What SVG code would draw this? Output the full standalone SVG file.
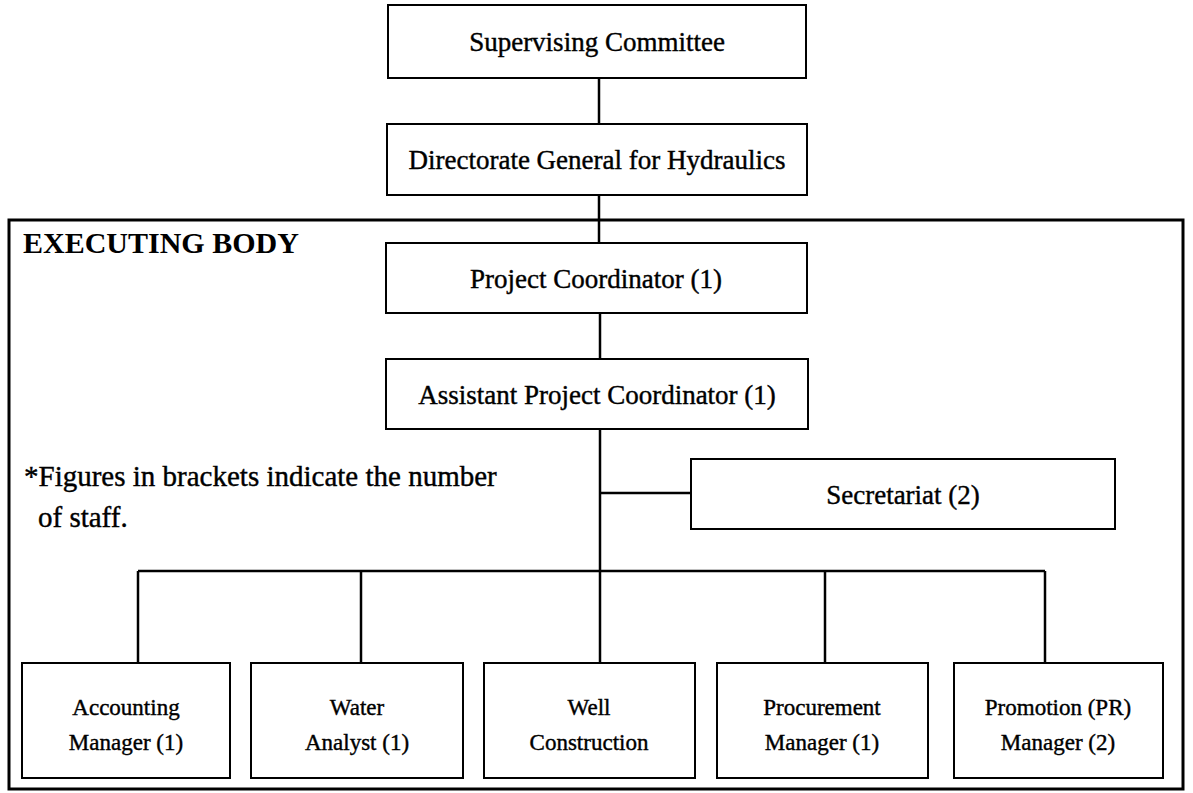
<svg xmlns="http://www.w3.org/2000/svg" width="1193" height="793" viewBox="0 0 1193 793">
<style>
.box{fill:#fff;stroke:#000;stroke-width:2}
.frame{fill:none;stroke:#000;stroke-width:3}
.t{font-family:"Liberation Serif","Times New Roman",serif;fill:#000;stroke:#000;stroke-width:0.4;text-anchor:middle}
.big{font-size:27px}
.small{font-size:23px}
.note{font-family:"Liberation Serif","Times New Roman",serif;font-size:29px;fill:#000;stroke:#000;stroke-width:0.4}
.conn{stroke:#000;stroke-width:2.5;fill:none}
</style>
<rect width="1193" height="793" fill="#fff"/>
<g id="executing-body">
<rect class="frame" x="9" y="220" width="1174" height="569"/>
<text x="23" y="253" font-family="Liberation Serif,Times New Roman,serif" font-size="30" font-weight="bold">EXECUTING BODY</text>
</g>
<g id="connectors">
<line class="conn" x1="599" y1="78" x2="599" y2="124"/>
<line class="conn" x1="599" y1="195" x2="599" y2="243"/>
<line class="conn" x1="600" y1="313" x2="600" y2="359"/>
<line class="conn" x1="600" y1="429" x2="600" y2="663"/>
<line class="conn" x1="600" y1="493" x2="691" y2="493"/>
<line class="conn" x1="138" y1="571" x2="1045" y2="571"/>
<line class="conn" x1="138" y1="571" x2="138" y2="663"/>
<line class="conn" x1="361" y1="571" x2="361" y2="663"/>
<line class="conn" x1="825" y1="571" x2="825" y2="663"/>
<line class="conn" x1="1045" y1="571" x2="1045" y2="663"/>
</g>
<g id="supervising-committee">
<rect class="box" x="388" y="5" width="418" height="73"/>
<text class="t big" x="597" y="51">Supervising Committee</text>
</g>
<g id="directorate-general">
<rect class="box" x="387" y="124" width="420" height="71"/>
<text class="t big" x="597" y="169">Directorate General for Hydraulics</text>
</g>
<g id="project-coordinator">
<rect class="box" x="386" y="243" width="421" height="70"/>
<text class="t big" x="596" y="288">Project Coordinator (1)</text>
</g>
<g id="assistant-project-coordinator">
<rect class="box" x="386" y="359" width="422" height="70"/>
<text class="t big" x="597" y="404">Assistant Project Coordinator (1)</text>
</g>
<g id="secretariat">
<rect class="box" x="691" y="459" width="424" height="70"/>
<text class="t big" x="903" y="504">Secretariat (2)</text>
</g>
<g id="note">
<text class="note" x="24" y="486">*Figures in brackets indicate the number</text>
<text class="note" x="38" y="527">of staff.</text>
</g>
<g id="accounting-manager">
<rect class="box" x="22" y="663" width="208" height="115"/>
<text class="t small" x="126" y="715">Accounting</text>
<text class="t small" x="126" y="750">Manager (1)</text>
</g>
<g id="water-analyst">
<rect class="box" x="251" y="663" width="212" height="115"/>
<text class="t small" x="357" y="715">Water</text>
<text class="t small" x="357" y="750">Analyst (1)</text>
</g>
<g id="well-construction">
<rect class="box" x="484" y="663" width="211" height="115"/>
<text class="t small" x="589" y="715">Well</text>
<text class="t small" x="589" y="750">Construction</text>
</g>
<g id="procurement-manager">
<rect class="box" x="717" y="663" width="211" height="115"/>
<text class="t small" x="822" y="715">Procurement</text>
<text class="t small" x="822" y="750">Manager (1)</text>
</g>
<g id="promotion-manager">
<rect class="box" x="954" y="663" width="209" height="115"/>
<text class="t small" x="1058" y="715">Promotion (PR)</text>
<text class="t small" x="1058" y="750">Manager (2)</text>
</g>
</svg>
